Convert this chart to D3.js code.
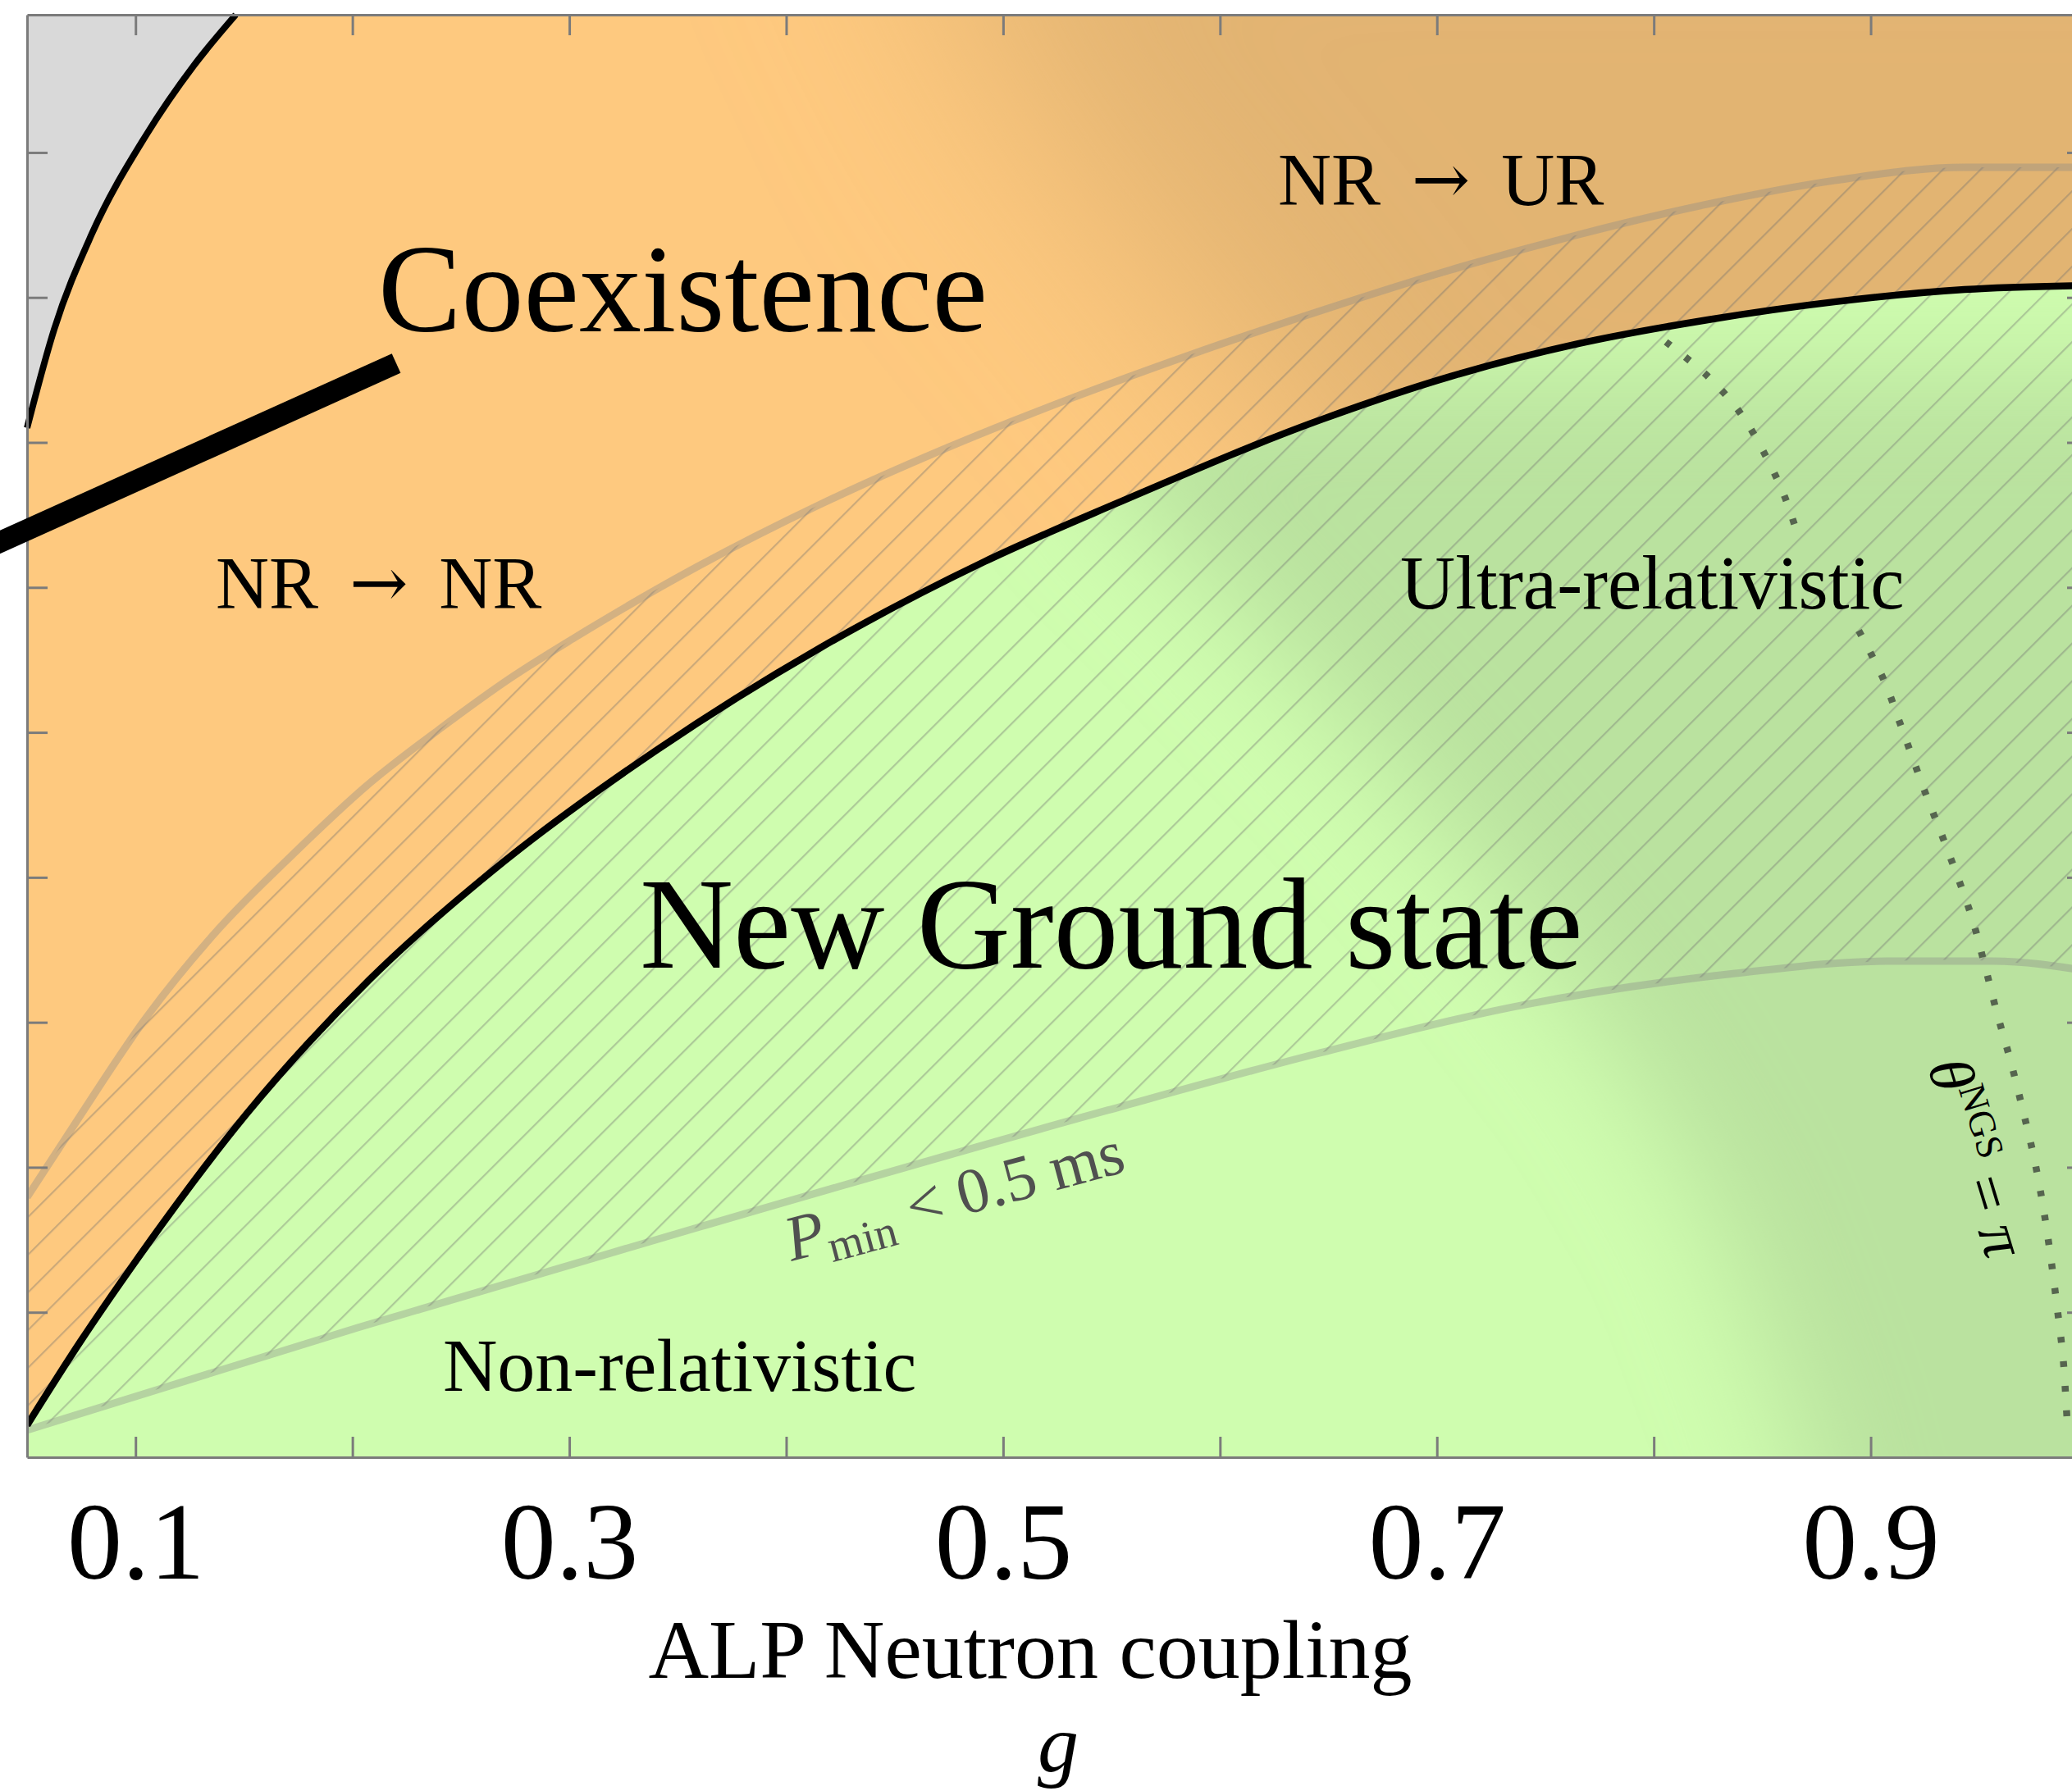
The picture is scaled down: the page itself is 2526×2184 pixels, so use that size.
<!DOCTYPE html>
<html>
<head>
<meta charset="utf-8">
<script src="https://cdn.jsdelivr.net/npm/d3@7"></script>
<style>
  html, body { margin: 0; padding: 0; background: #ffffff; }
  svg { display: block; }
  text { font-family: "Liberation Serif", "Times New Roman", "DejaVu Serif", serif; fill: #000; }
</style>
</head>
<body>
<svg id="chart" width="2526" height="2184"></svg>
<script>
// ---------------- data (g = ALP-neutron coupling, second coordinate = vertical axis value) ----------------
const xTicks = [0.1, 0.2, 0.3, 0.4, 0.5, 0.6, 0.7, 0.8, 0.9];
const xTickLabels = ["0.1", "", "0.3", "", "0.5", "", "0.7", "", "0.9"];
const yTicks = [0.1, 0.2, 0.3, 0.4, 0.5, 0.6, 0.7, 0.8, 0.9];

// Boundary between the coexistence phase (above) and the new ground state (below)
const groundStateBoundary = [
  [0.05, 0.0221], [0.0746, 0.0798], [0.1003, 0.1357], [0.151, 0.2365], [0.2077, 0.3292],
  [0.2701, 0.4112], [0.3401, 0.4876], [0.4157, 0.5583], [0.4913, 0.6177], [0.5522, 0.6579],
  [0.6475, 0.7162], [0.7065, 0.7456], [0.7655, 0.7682], [0.8249, 0.7846],
  [0.8839, 0.7971], [0.9433, 0.8055], [1.0, 0.8083]
];

// Edge of the excluded (grey) corner
const excludedBoundary = [
  [0.05, 0.710], [0.0625, 0.778], [0.0796, 0.843], [0.1049, 0.912], [0.1269, 0.960], [0.1462, 0.995]
];

// Band where P_min < 0.5 ms: upper and lower edges
const pminUpperEdge = [
  [0.05, 0.1793], [0.0712, 0.2280], [0.1052, 0.3038], [0.1389, 0.3654], [0.1725, 0.4158],
  [0.2062, 0.4627], [0.2402, 0.5023], [0.2739, 0.5385], [0.3022, 0.5651], [0.359, 0.6143],
  [0.4157, 0.6573], [0.4724, 0.6952], [0.5292, 0.7292], [0.5859, 0.7603], [0.6475, 0.7914],
  [0.7065, 0.8191], [0.7655, 0.8434], [0.8249, 0.8644], [0.8839, 0.8808], [0.9433, 0.8898],
  [1.0, 0.8898]
];
const pminLowerEdge = [
  [0.05, 0.0187], [0.2024, 0.0894], [0.359, 0.1584], [0.5481, 0.2393], [0.6445, 0.2783],
  [0.741, 0.3123], [0.8374, 0.3337], [0.9073, 0.3422], [0.9565, 0.3422], [1.0, 0.3354]
];

// theta_NGS = pi contour (null marks the break under the label)
const thetaPiContour = [
  [0.8056, 0.7693], [0.8249, 0.7456], [0.8397, 0.7207], [0.8514, 0.6913], [0.8604, 0.6624],
  [0.8661, 0.6375], null,
  [0.8945, 0.5702], [0.9062, 0.5357], [0.9134, 0.5068], [0.9255, 0.4571], [0.9342, 0.4237],
  [0.9463, 0.3739], [0.9523, 0.3411], [0.958, 0.3077], [0.9644, 0.2738], [0.9701, 0.2398],
  [0.9754, 0.2059], [0.9796, 0.172], [0.983, 0.138], [0.986, 0.103], [0.9887, 0.0684],
  [0.9902, 0.0345], [0.9909, 0.017]
];

// Leader line towards the coexistence label
const coexistenceLeader = [[0.03, 0.6262], [0.2202, 0.7546]];

// ---------------- layout & styles ----------------
const xMin = 0.05, xMax = 1.0, yMin = 0, yMax = 0.995;
const x = d3.scaleLinear().domain([xMin, xMax]).range([33, 2545]);
const y = d3.scaleLinear().domain([yMin, yMax]).range([1777, 18]);

const ORANGE = "#FEC97F", ORANGE_DARK = "#E2B472";
const GREEN = "#CFFDAF", GREEN_DARK = "#BAE29F";
const GREY = "#D9D9D9", FRAME = "#7b7b7b";

const svg = d3.select("#chart");
const defs = svg.append("defs");

// x-monotone boundaries
const curve = d3.line()
  .x(d => x(d[0])).y(d => y(d[1]))
  .curve(d3.curveMonotoneX);
// free-form contour with a break
const contour = d3.line()
  .defined(d => d !== null)
  .x(d => x(d[0])).y(d => y(d[1]))
  .curve(d3.curveCatmullRom.alpha(0.5));
const polygon = d3.line().x(d => x(d[0])).y(d => y(d[1]));

const px0 = x(xMin), px1 = x(xMax), py0 = y(yMin), py1 = y(yMax);

defs.append("clipPath").attr("id", "plotClip")
  .append("rect").attr("x", px0).attr("y", py1).attr("width", px1 - px0).attr("height", py0 - py1);

const groundPath = curve(groundStateBoundary) + `L${px1},${py0}L${px0},${py0}Z`;
defs.append("clipPath").attr("id", "groundClip").append("path").attr("d", groundPath);

const lowerReversed = d3.line().x(d => x(d[0])).y(d => y(d[1]))
  .curve(d3.curveCatmullRom.alpha(0.5))(pminLowerEdge.slice().reverse());
const bandPath = curve(pminUpperEdge) + "L" + lowerReversed.slice(1) + "Z";
defs.append("clipPath").attr("id", "bandClip").append("path").attr("d", bandPath);

function softFilter(id, sd) {
  const f = defs.append("filter").attr("id", id)
    .attr("filterUnits", "userSpaceOnUse")
    .attr("x", -800).attr("y", -800).attr("width", 4200).attr("height", 3800);
  f.append("feGaussianBlur").attr("stdDeviation", sd);
}
softFilter("softWide", 130);
softFilter("soft", 70);

const hatch = defs.append("pattern").attr("id", "hatch")
  .attr("patternUnits", "userSpaceOnUse")
  .attr("width", 32.5).attr("height", 32.5)
  .attr("patternTransform", "rotate(45)");
hatch.append("line").attr("x1", 1).attr("y1", -2).attr("x2", 1).attr("y2", 35)
  .attr("stroke", "rgba(110,110,110,0.36)").attr("stroke-width", 2.4);

const plot = svg.append("g").attr("clip-path", "url(#plotClip)");

// Coexistence phase: base colour with a darker tint towards large couplings
plot.append("rect").attr("x", px0).attr("y", py1).attr("width", px1 - px0).attr("height", py0 - py1)
  .attr("fill", ORANGE);
const coexShade = [[0.44, 1.15], [0.51, 0.93], [0.565, 0.83], [0.62, 0.73],
                   [0.68, 0.60], [1.15, 0.60], [1.15, 1.15]];
plot.append("path").attr("d", polygon(coexShade) + "Z")
  .attr("fill", ORANGE_DARK).attr("filter", "url(#softWide)");

// New ground state region
const ground = plot.append("g").attr("clip-path", "url(#groundClip)");
ground.append("path").attr("d", groundPath).attr("fill", GREEN);
const groundShade = [[0.54, 0.75], [0.54, 0.688], [0.60, 0.598], [0.675, 0.479], [0.735, 0.3716],
                     [0.788, 0.27], [0.83, 0.1623], [0.8696, -0.002], [0.8800, -0.1],
                     [1.15, -0.1], [1.15, 0.75]];
ground.append("g").append("path").attr("d", polygon(groundShade) + "Z")
  .attr("fill", GREEN_DARK).attr("filter", "url(#soft)");

// Excluded corner
plot.append("path")
  .attr("d", curve(excludedBoundary) + `L${px0},${py1}Z`)
  .attr("fill", GREY);

// Hatched P_min band and its edges
plot.append("g").attr("clip-path", "url(#bandClip)")
  .append("rect").attr("x", px0).attr("y", py1).attr("width", px1 - px0).attr("height", py0 - py1)
  .attr("fill", "url(#hatch)");
[pminUpperEdge, pminLowerEdge].forEach(edge => {
  plot.append("path").attr("d", curve(edge))
    .attr("fill", "none").attr("stroke", "rgba(135,135,135,0.36)").attr("stroke-width", 9);
});

// Phase boundaries
plot.append("path").attr("d", curve(groundStateBoundary))
  .attr("fill", "none").attr("stroke", "#000").attr("stroke-width", 8.5);
svg.append("path").attr("d", curve(excludedBoundary))
  .attr("fill", "none").attr("stroke", "#000").attr("stroke-width", 8);

// theta = pi contour
plot.append("path").attr("d", contour(thetaPiContour))
  .attr("fill", "none").attr("stroke", "#56654f").attr("stroke-width", 8.5)
  .attr("stroke-dasharray", "7 23");

// ---------------- axes (ticks pointing inwards) ----------------
function styleAxis(g) {
  g.selectAll(".domain").attr("stroke", FRAME).attr("stroke-width", 3);
  g.selectAll(".tick line").attr("stroke", FRAME).attr("stroke-width", 3);
}
const bottomAxis = svg.append("g").attr("transform", `translate(0,${py0})`)
  .call(d3.axisBottom(x).tickValues(xTicks).tickSize(-25).tickSizeOuter(0).tickPadding(53)
    .tickFormat((d, i) => xTickLabels[i]));
styleAxis(bottomAxis);
bottomAxis.selectAll(".tick text")
  .attr("font-family", '"Liberation Serif", serif').attr("font-size", 134).attr("fill", "#000");

svg.append("g").attr("transform", `translate(0,${py1})`)
  .call(d3.axisTop(x).tickValues(xTicks).tickSize(-25).tickSizeOuter(0).tickFormat(""))
  .call(styleAxis);
svg.append("g").attr("transform", `translate(${px0},0)`)
  .call(d3.axisLeft(y).tickValues(yTicks).tickSize(-25).tickSizeOuter(0).tickFormat(""))
  .call(styleAxis);
svg.append("g").attr("transform", `translate(${px1},0)`)
  .call(d3.axisRight(y).tickValues(yTicks).tickSize(-25).tickSizeOuter(0).tickFormat(""))
  .call(styleAxis);

// ---------------- labels ----------------
function label(text, g, v, size) {
  return svg.append("text").attr("x", x(g)).attr("y", y(v)).attr("font-size", size).text(text);
}
function arrowLabel(left, right, g, v, size) {
  const t = svg.append("text").attr("x", x(g)).attr("y", y(v)).attr("font-size", size);
  t.append("tspan").text(left);
  t.append("tspan").attr("font-family", '"DejaVu Serif", serif').attr("font-size", size * 0.95)
    .attr("dx", size * 0.42).attr("dy", -2).text("\u2192");
  t.append("tspan").attr("dx", size * 0.42).attr("dy", 2).text(right);
  return t;
}
label("Coexistence", 0.2119, 0.7767, 152);
arrowLabel("NR", "NR", 0.137, 0.5855, 90);
arrowLabel("NR", "UR", 0.6267, 0.8638, 90);
label("Ultra-relativistic", 0.6831, 0.5855, 93);
label("New Ground state", 0.3325, 0.3377, 158);
label("Non-relativistic", 0.2417, 0.0458, 92);

// P_min label along the lower band edge
const pm = svg.append("text")
  .attr("transform", `translate(${x(0.4025)},${y(0.1352)}) rotate(-15)`)
  .attr("font-size", 78).style("fill", "#505050");
pm.append("tspan").attr("font-style", "italic").style("fill", "#505050").text("P");
pm.append("tspan").attr("font-size", 55).attr("dy", 14).style("fill", "#505050").text("min");
pm.append("tspan").attr("dy", -14).style("fill", "#505050").text(" < 0.5 ms");

// theta label along the dotted contour
const th = svg.append("text")
  .attr("transform", `translate(${x(0.9262)},${y(0.2698)}) rotate(73)`)
  .attr("font-size", 76);
th.append("tspan").attr("font-style", "italic").text("\u03B8");
th.append("tspan").attr("font-size", 46).attr("dy", -28).text("NGS");
th.append("tspan").attr("dy", 28).text(" = ");
th.append("tspan").attr("font-style", "italic").text("\u03C0");

// Axis title
svg.append("text").attr("x", x(0.5125)).attr("y", 2046).attr("text-anchor", "middle")
  .attr("font-size", 102).text("ALP Neutron coupling");
svg.append("text").attr("x", x(0.5254)).attr("y", 2160).attr("text-anchor", "middle")
  .attr("font-size", 100).attr("font-style", "italic").text("g");

// Leader line
svg.append("path").attr("d", polygon(coexistenceLeader))
  .attr("stroke", "#000").attr("stroke-width", 26).attr("stroke-linecap", "butt");
</script>
</body>
</html>
